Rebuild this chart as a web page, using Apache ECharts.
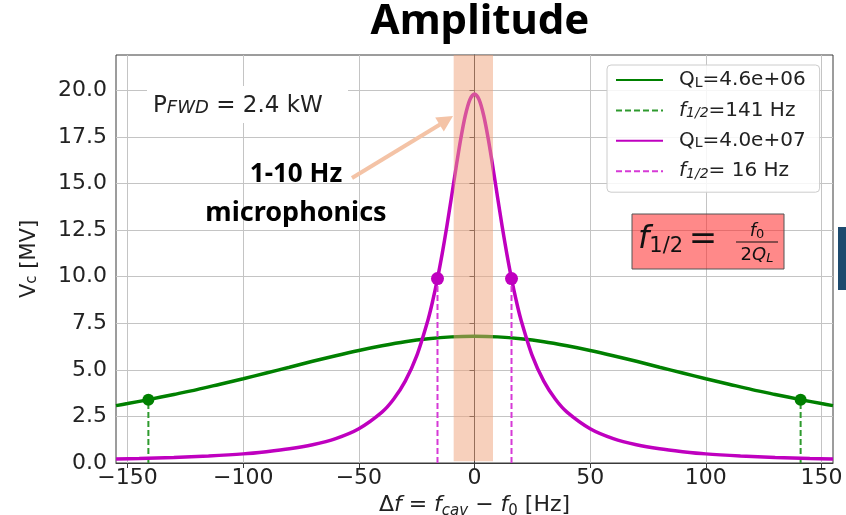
<!DOCTYPE html>
<html><head><meta charset="utf-8">
<script src="https://cdn.jsdelivr.net/npm/echarts@6/dist/echarts.min.js"></script>
<style>html,body{margin:0;padding:0;background:#fff}#c{width:846px;height:515px}</style>
</head><body><div id="c"></div><script>
// ---- data ----
const freqGreen = [-155,-150,-141,-130,-120,-110,-100,-90,-80,-70,-60,-50,-40,-30,-20,-10,0,10,20,30,40,50,60,70,80,90,100,110,120,130,141,150,155];
const vcGreen   = [3.08,3.19,3.40,3.68,3.94,4.23,4.52,4.83,5.14,5.46,5.76,6.04,6.29,6.51,6.67,6.77,6.80,6.77,6.67,6.51,6.29,6.04,5.76,5.46,5.14,4.83,4.52,4.23,3.94,3.68,3.40,3.19,3.08];
const freqMagenta = [-155,-145,-130,-115,-100,-90,-80,-70,-60,-50,-40,-35,-30,-25,-20,-18,-16,-14,-12,-10,-8,-6,-4,-2,0,2,4,6,8,10,12,14,16,18,20,25,30,35,40,50,60,70,80,90,100,115,130,145,155];
const vcMagenta   = [0.21,0.24,0.30,0.38,0.49,0.61,0.76,0.98,1.31,1.84,2.73,3.42,4.38,5.75,7.73,8.74,9.90,11.21,12.67,14.24,15.84,17.36,18.64,19.50,19.80,19.50,18.64,17.36,15.84,14.24,12.67,11.21,9.90,8.74,7.73,5.75,4.38,3.42,2.73,1.84,1.31,0.98,0.76,0.61,0.49,0.38,0.30,0.24,0.21];
const halfFreqGreen = [-141, 141];
const halfVcGreen = 3.40;
const halfFreqMagenta = [-16, 16];
const halfVcMagenta = 9.90;
const bandFreq = [-9, 8];          // microphonics band [Hz]
const bandVc = [0.1, 21.9];
const xTicks = [-150,-100,-50,0,50,100,150];
const yTicks = [0,2.5,5,7.5,10,12.5,15,17.5,20];
const xRange = [-155, 155];
const yRange = [0, 21.9];
const seriesNames = ['QL=4.6e+06','f12=141 Hz','QL=4.0e+07','f12= 16 Hz'];
const legendText = {
  'QL=4.6e+06': 'Q{sub|L}=4.6e+06',
  'f12=141 Hz': '{it|f}{subit|1/2}=141 Hz',
  'QL=4.0e+07': 'Q{sub|L}=4.0e+07',
  'f12= 16 Hz': '{it|f}{subit|1/2}= 16 Hz'
};

const GREEN = '#008000', MAG = '#bf00bf';
const zip = (xs, ys) => xs.map((x, i) => [x, ys[i]]);
const vlines = (xs, v) => { const d = []; xs.forEach(x => { d.push([x, 0], [x, v], [x, '-']); }); return d; };
const FONT = 'DejaVu Sans';

const chart = echarts.init(document.getElementById('c'), null, {renderer: 'canvas'});
chart.setOption({
  backgroundColor: '#ffffff',
  animation: false,
  grid: {left: 116, right: 13, top: 55, bottom: 52, show: true, borderColor: '#3a3a3a', borderWidth: 1,
    backgroundColor: 'transparent', containLabel: false, outerBoundsMode: 'none'},
  xAxis: {
    type: 'value', min: xRange[0], max: xRange[1],
    axisLine: {show: true, lineStyle: {color: '#3a3a3a'}},
    axisTick: {show: true, length: 5, lineStyle: {color: '#3a3a3a'}, customValues: xTicks},
    axisLabel: {customValues: xTicks, fontFamily: FONT, fontSize: 22, color: '#222', margin: 4,
      formatter: v => (v < 0 ? '\u2212' + Math.abs(v) : String(v))},
    splitLine: {show: true, lineStyle: {color: '#c4c4c4', width: 1}},
    name: '{d|\u0394}{i|f}{d| = }{i|f}{is|cav}{d| \u2212 }{i|f}{s|0}{d| [Hz]}',
    nameLocation: 'middle', nameGap: 23,
    nameTextStyle: {fontFamily: FONT, fontSize: 22, color: '#222', rich: {
      d: {fontFamily: FONT, fontSize: 22, color: '#222', lineHeight: 27, verticalAlign: 'middle'},
      i: {fontFamily: FONT, fontSize: 22, fontStyle: 'italic', color: '#222', lineHeight: 27, verticalAlign: 'middle'},
      is: {fontFamily: FONT, fontSize: 15, fontStyle: 'italic', color: '#222', lineHeight: 15, verticalAlign: 'bottom'},
      s: {fontFamily: FONT, fontSize: 15, color: '#222', lineHeight: 15, verticalAlign: 'bottom'}
    }}
  },
  yAxis: {
    type: 'value', min: yRange[0], max: yRange[1],
    axisLine: {show: true, lineStyle: {color: '#3a3a3a'}},
    axisTick: {show: true, length: 5, lineStyle: {color: '#3a3a3a'}, customValues: yTicks},
    axisLabel: {customValues: yTicks, fontFamily: FONT, fontSize: 22, color: '#222', margin: 9,
      formatter: v => v.toFixed(1)},
    splitLine: {show: true, lineStyle: {color: '#c4c4c4', width: 1}},
    name: 'V{sub|c} [MV]', nameLocation: 'middle', nameGap: 76,
    nameTextStyle: {fontFamily: FONT, fontSize: 21, color: '#222', rich: {
      sub: {fontFamily: FONT, fontSize: 15, color: '#222', lineHeight: 14, verticalAlign: 'bottom'}
    }}
  },
  legend: {
    data: seriesNames, orient: 'vertical', left: 607, top: 65,
    padding: [5, 14, 11, 8], itemGap: 10.4, itemWidth: 47, itemHeight: 14,
    backgroundColor: 'rgba(255,255,255,0.85)', borderColor: '#cccccc', borderWidth: 1, borderRadius: 4,
    itemStyle: {opacity: 0, borderWidth: 0},
    formatter: name => legendText[name],
    textStyle: {fontFamily: FONT, fontSize: 20, color: '#222', lineHeight: 20, padding: [0, 0, 0, 11], rich: {
      sub: {fontFamily: FONT, fontSize: 14, color: '#222', lineHeight: 12, verticalAlign: 'bottom'},
      it: {fontFamily: FONT, fontSize: 20, fontStyle: 'italic', color: '#222', lineHeight: 20},
      subit: {fontFamily: FONT, fontSize: 14, fontStyle: 'italic', color: '#222', lineHeight: 12, verticalAlign: 'bottom'}
    }}
  },
  series: [
    {name: seriesNames[0], type: 'line', data: zip(freqGreen, vcGreen), smooth: 0.3, symbol: 'none',
      lineStyle: {color: GREEN, width: 3.5}, itemStyle: {color: GREEN}, z: 3},
    {name: seriesNames[1], type: 'line', data: vlines(halfFreqGreen, halfVcGreen), symbol: 'none', connectNulls: false,
      lineStyle: {color: '#2e9a2e', width: 2, type: [6, 3]}, itemStyle: {color: '#2e9a2e'}, z: 3},
    {name: seriesNames[2], type: 'line', data: zip(freqMagenta, vcMagenta), smooth: 0.3, symbol: 'none',
      lineStyle: {color: MAG, width: 3.5}, itemStyle: {color: MAG}, z: 3},
    {name: seriesNames[3], type: 'line', data: vlines(halfFreqMagenta, halfVcMagenta), symbol: 'none', connectNulls: false,
      lineStyle: {color: '#d63ad6', width: 2, type: [6, 3]}, itemStyle: {color: '#d63ad6'}, z: 3},
    {name: 'dotsG', type: 'scatter', data: halfFreqGreen.map(x => [x, halfVcGreen]), symbolSize: 12,
      itemStyle: {color: GREEN, opacity: 1}, z: 4},
    {name: 'dotsM', type: 'scatter', data: halfFreqMagenta.map(x => [x, halfVcMagenta]), symbolSize: 13,
      itemStyle: {color: MAG, opacity: 1}, z: 4},
    {name: 'band', type: 'custom', z: 6, silent: true, data: [[bandFreq[0], bandFreq[1]]],
      renderItem: (params, api) => {
        const p0 = api.coord([api.value(0), bandVc[1]]);
        const p1 = api.coord([api.value(1), bandVc[0]]);
        return {type: 'rect', shape: {x: p0[0], y: p0[1], width: p1[0] - p0[0], height: p1[1] - p0[1]},
          style: {fill: 'rgba(239,161,121,0.5)'}};
      }}
  ],
  graphic: [
    {type: 'text', x: 480, y: 22, z: 100, style: {text: 'Amplitude', fontFamily: 'Noto Sans', fontWeight: 'bold', fontSize: 42, fill: '#000', align: 'center', verticalAlign: 'middle'}},
    {type: 'rect', shape: {x: 147, y: 86, width: 201, height: 37}, z: 50, style: {fill: '#ffffff'}},
    {type: 'text', x: 153, y: 106, z: 100, style: {
      text: 'P{s|FWD} = 2.4 kW', fontFamily: FONT, fontSize: 23, fill: '#222', verticalAlign: 'middle',
      rich: {s: {fontFamily: FONT, fontSize: 18, fontStyle: 'italic', fill: '#222', lineHeight: 18, verticalAlign: 'bottom'}}}},
    {type: 'text', x: 296, y: 175, z: 100, style: {text: '1-10 Hz', fontFamily: 'Noto Sans', fontWeight: 'bold', fontSize: 26, fill: '#000', align: 'center', verticalAlign: 'middle'}},
    {type: 'text', x: 296, y: 213, z: 100, style: {text: 'microphonics', fontFamily: 'Noto Sans', fontWeight: 'bold', fontSize: 27, fill: '#000', align: 'center', verticalAlign: 'middle'}},
    {type: 'line', z: 100, shape: {x1: 352, y1: 178, x2: 440, y2: 124.5}, style: {stroke: '#f4c3a6', lineWidth: 4}},
    {type: 'polygon', z: 100, shape: {points: [[453, 116], [443.8, 131.4], [435.2, 117.4]]}, style: {fill: '#f4c3a6'}},
    {type: 'rect', z: 60, shape: {x: 632, y: 214, width: 152, height: 55}, style: {fill: 'rgba(255,40,40,0.55)', stroke: '#555', lineWidth: 1}},
    {type: 'text', x: 638, y: 240, z: 100, style: {
      text: '{f|f}{s|1/2}', fill: '#111', verticalAlign: 'middle',
      rich: {f: {fontFamily: FONT, fontSize: 32, fontStyle: 'italic', fill: '#111', lineHeight: 34},
             s: {fontFamily: FONT, fontSize: 21, fill: '#111', lineHeight: 22, verticalAlign: 'bottom'}}}},
    {type: 'text', x: 703, y: 240, z: 100, style: {text: '=', fontFamily: FONT, fontSize: 34, fill: '#111', align: 'center', verticalAlign: 'middle'}},
    {type: 'text', x: 757, y: 231, z: 100, style: {
      text: '{i|f}{s|0}', fill: '#111', align: 'center', verticalAlign: 'middle',
      rich: {i: {fontFamily: FONT, fontSize: 18, fontStyle: 'italic', fill: '#111', lineHeight: 20},
             s: {fontFamily: FONT, fontSize: 13, fill: '#111', lineHeight: 12, verticalAlign: 'bottom'}}}},
    {type: 'line', z: 100, shape: {x1: 736, y1: 242, x2: 778, y2: 242}, style: {stroke: '#111', lineWidth: 1.2}},
    {type: 'text', x: 757, y: 255, z: 100, style: {
      text: '2{i|Q}{s|L}', fontFamily: FONT, fontSize: 18, fill: '#111', align: 'center', verticalAlign: 'middle',
      rich: {i: {fontFamily: FONT, fontSize: 18, fontStyle: 'italic', fill: '#111', lineHeight: 20},
             s: {fontFamily: FONT, fontSize: 13, fontStyle: 'italic', fill: '#111', lineHeight: 12, verticalAlign: 'bottom'}}}},
    {type: 'rect', z: 100, shape: {x: 838, y: 227, width: 8, height: 63}, style: {fill: '#1d4a6e'}}
  ]
});
</script></body></html>
